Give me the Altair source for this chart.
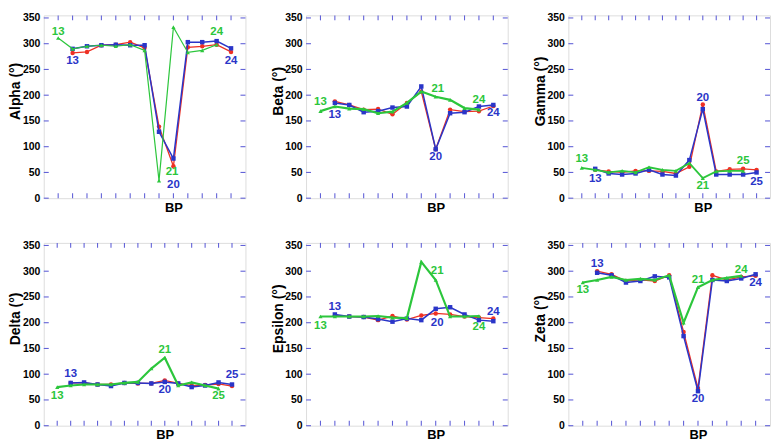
import altair as alt
import pandas as pd

# ---------------- data ----------------
# red & blue series start at BP position 1, green series starts at position 0
alpha_red   = [282, 284, 297, 298, 303, 292, 139, 62, 293, 295, 298, 284]
alpha_blue  = [290, 295, 297, 298, 297, 297, 129, 77, 303, 303, 305, 291]
alpha_green = [311, 290, 295, 297, 295, 298, 287, 34, 332, 283, 287, 298]

beta_red   = [188, 181, 172, 173, 163, 185, 207, 95, 172, 168, 169, 179]
beta_blue  = [185, 181, 167, 169, 176, 178, 217, 95, 165, 167, 178, 181]
beta_green = [169, 178, 174, 173, 165, 168, 185, 207, 197, 191, 175, 172]

gamma_red   = [55, 52, 50, 53, 53, 52, 48, 61, 182, 52, 56, 57, 55]
gamma_blue  = [57, 48, 46, 48, 55, 46, 44, 74, 173, 46, 46, 46, 50]
gamma_green = [59, 55, 50, 53, 50, 60, 55, 53, 68, 39, 52, 53, 53]

delta_red   = [83, 83, 80, 80, 83, 82, 82, 88, 82, 78, 79, 81, 77]
delta_blue  = [83, 84, 80, 77, 83, 83, 82, 85, 82, 75, 78, 84, 80]
delta_green = [75, 78, 80, 80, 80, 83, 85, 111, 132, 78, 84, 78, 72]

epsilon_red   = [214, 212, 211, 205, 213, 206, 214, 218, 216, 212, 210, 208]
epsilon_blue  = [216, 212, 211, 207, 202, 208, 205, 227, 230, 216, 205, 203]
epsilon_green = [212, 212, 212, 212, 213, 210, 209, 318, 283, 212, 212, 213]

zeta_red   = [300, 294, 281, 283, 281, 292, 182, 73, 292, 283, 289, 291]
zeta_blue  = [297, 292, 278, 281, 290, 288, 174, 67, 283, 281, 286, 294]
zeta_green = [278, 283, 289, 283, 285, 283, 292, 200, 269, 283, 287, 291]

# residue-number annotations: (BP position, angle, text, series)
alpha_notes = [(0, 322, "13", "green"), (1, 267, "13", "blue"), (7.9, 50, "21", "green"),
               (8, 26, "20", "blue"), (11, 322, "24", "green"), (12, 267, "24", "blue")]
beta_notes = [(0, 186, "13", "green"), (1, 162, "13", "blue"), (8.15, 212, "21", "green"),
              (8, 80, "20", "blue"), (11, 190, "24", "green"), (12, 165, "24", "blue")]
gamma_notes = [(0, 77, "13", "green"), (1, 37, "13", "blue"), (9, 194, "20", "blue"),
               (9, 24, "21", "green"), (12, 72, "25", "green"), (13, 32, "25", "blue")]
delta_notes = [(1, 100, "13", "blue"), (0, 58, "13", "green"), (8, 147, "21", "green"),
               (8, 70, "20", "blue"), (12, 58, "25", "green"), (13, 99, "25", "blue")]
epsilon_notes = [(1, 230, "13", "blue"), (0, 194, "13", "green"), (8.1, 301, "21", "green"),
                 (8.1, 200, "20", "blue"), (11, 191, "24", "green"), (12, 221, "24", "blue")]
zeta_notes = [(1, 313, "13", "blue"), (0, 264, "13", "green"), (8, 283, "21", "green"),
              (8, 51, "20", "blue"), (11, 303, "24", "green"), (12, 278, "24", "blue")]

# BP position under which the "BP" axis title sits in each panel
bp_title_pos = {"Alpha": 8, "Beta": 8, "Gamma": 9, "Delta": 8, "Epsilon": 8, "Zeta": 8}

y_ticks = [0, 50, 100, 150, 200, 250, 300, 350]
Y_MAX = 355

# ---------------- styling ----------------
RED, BLUE, GREEN = "#ee3124", "#2a35c8", "#2cc63c"
FRAME = "#6262d8"
W, H = 203, 184
FONT = "Liberation Sans"
TICK_SIZE = 100  # symbol box area -> 10px box, ticks 5px long

color_scale = alt.Scale(domain=["red", "blue", "green"], range=[RED, BLUE, GREEN])

# inward tick glyphs (unit-box paths) for the four frame edges
TICK_DOWN = "M0,0L0,1"
TICK_UP = "M0,-1L0,0"
TICK_RIGHT = "M0,0L1,0"
TICK_LEFT = "M-1,0L0,0"


def panel(name, red, blue, green, notes, npos, green_width):
    rows = []
    for i, v in enumerate(red):
        rows.append({"pos": i + 1, "val": v, "s": "red"})
    for i, v in enumerate(blue):
        rows.append({"pos": i + 1, "val": v, "s": "blue"})
    for i, v in enumerate(green):
        rows.append({"pos": i, "val": v, "s": "green"})
    df = pd.DataFrame(rows)
    notes_df = pd.DataFrame(notes, columns=["pos", "val", "txt", "s"])

    xscale = alt.Scale(domain=[-1, npos], nice=False, zero=False)
    yscale = alt.Scale(domain=[0, Y_MAX], nice=False, zero=False)
    bp_x = (bp_title_pos[name] + 1) / (npos + 1) * W
    xaxis = alt.Axis(title="BP", labels=False, ticks=False, domain=False, grid=False,
                     titleFontSize=13, titleFontWeight="bold", titlePadding=3,
                     titleX=bp_x, minExtent=0, maxExtent=0)
    yaxis = alt.Axis(title=f"{name} (°)", values=y_ticks, ticks=False, domain=False,
                     grid=False, labelFontSize=10.5, labelFontWeight="bold",
                     labelOverlap=False, labelPadding=4, minExtent=18, maxExtent=18,
                     titlePadding=3, titleFontSize=14, titleFontWeight="bold",
                     titleY=H / 2 - 16)

    def X(field):
        return alt.X(field, type="quantitative", scale=xscale, axis=xaxis)

    def Y(field):
        return alt.Y(field, type="quantitative", scale=yscale, axis=yaxis)

    top_df = pd.DataFrame({"pos": list(range(npos)), "val": Y_MAX})
    bot_df = pd.DataFrame({"pos": list(range(npos)), "val": 0})
    left_df = pd.DataFrame({"pos": -1, "val": y_ticks})
    right_df = pd.DataFrame({"pos": npos, "val": y_ticks})

    layers = []
    styles = [("red", "circle", 1.3, 20), ("blue", "square", 1.5, 20),
              ("green", "triangle-up", green_width, 18)]
    for s, shape, sw, size in styles:
        col = {"red": RED, "blue": BLUE, "green": GREEN}[s]
        f = alt.Chart(df).transform_filter(alt.datum.s == s)
        layers.append(f.mark_line(color=col, strokeWidth=sw).encode(x=X("pos"), y=Y("val")))
        layers.append(f.mark_point(shape=shape, filled=True, size=size, color=col, opacity=1)
                      .encode(x=X("pos"), y=Y("val")))
    layers.append(alt.Chart(notes_df).mark_text(fontWeight="bold", fontSize=11.5, font=FONT)
                  .encode(x=X("pos"), y=Y("val"), text="txt:N",
                          color=alt.Color("s:N", scale=color_scale, legend=None)))
    for tdf, shp in [(top_df, TICK_DOWN), (bot_df, TICK_UP),
                     (left_df, TICK_RIGHT), (right_df, TICK_LEFT)]:
        layers.append(alt.Chart(tdf).mark_point(shape=shp, filled=False, stroke=FRAME,
                                                strokeWidth=1.1, size=TICK_SIZE, opacity=1)
                      .encode(x=X("pos"), y=Y("val")))
    return alt.layer(*layers).properties(width=W, height=H)


p1 = panel("Alpha", alpha_red, alpha_blue, alpha_green, alpha_notes, 13, 1.2)
p2 = panel("Beta", beta_red, beta_blue, beta_green, beta_notes, 13, 2.2)
p3 = panel("Gamma", gamma_red, gamma_blue, gamma_green, gamma_notes, 14, 1.8)
p4 = panel("Delta", delta_red, delta_blue, delta_green, delta_notes, 14, 2.2)
p5 = panel("Epsilon", epsilon_red, epsilon_blue, epsilon_green, epsilon_notes, 13, 2.2)
p6 = panel("Zeta", zeta_red, zeta_blue, zeta_green, zeta_notes, 13, 2.2)

chart = alt.vconcat(
    alt.hconcat(p1, p2, p3, spacing=22),
    alt.hconcat(p4, p5, p6, spacing=22),
    spacing=25,
).properties(
    padding={"left": 0, "top": 3, "right": 0, "bottom": 0}
).configure_view(
    stroke=FRAME, strokeWidth=1
).configure_axis(
    labelColor="black", titleColor="black", labelFont=FONT, titleFont=FONT
).configure(background="white")

chart.save("out.html", embed_options={"renderer": "svg", "actions": False})
